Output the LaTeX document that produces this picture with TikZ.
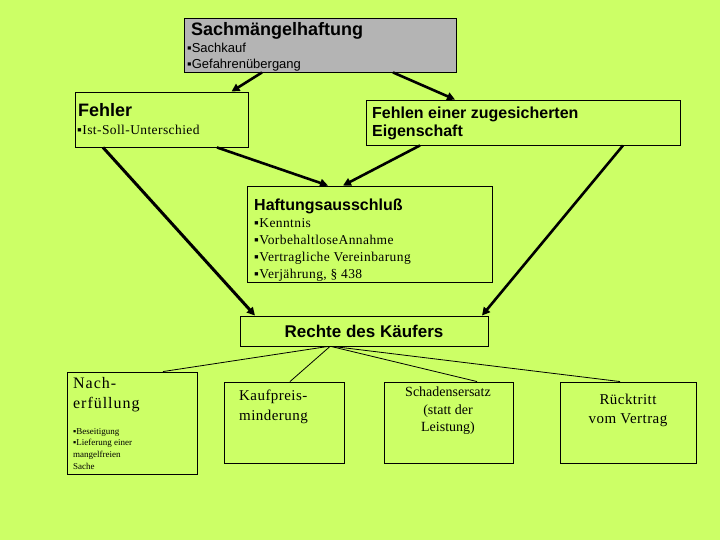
\documentclass[tikz,border=0pt]{standalone}
\usepackage{fontspec}
\setmainfont{Liberation Serif}
\newfontfamily\arial{Liberation Sans}
\newfontfamily\spaced[LetterSpace=6]{Liberation Serif}
\newfontfamily\lspaced[LetterSpace=3]{Liberation Serif}
\usetikzlibrary{arrows.meta}
\definecolor{bg}{HTML}{CCFF66}
\definecolor{boxgray}{HTML}{B4B4B4}
\begin{document}
\begin{tikzpicture}[x=1pt,y=-1pt,
  box/.style={draw=black,line width=0.9pt,rectangle,inner sep=0pt},
  thick arrow/.style={line width=2.6pt,-{Triangle[length=8pt,width=8pt]}},
  thin line/.style={line width=0.8pt},
  txt/.style={inner sep=0pt,anchor=base west},
  head/.style={txt,font=\arial\bfseries\fontsize{18}{20}\selectfont},
]
\fill[bg] (0,0) rectangle (720,540);
\useasboundingbox (0,0) rectangle (720,540);

% boxes
\node[box,fill=boxgray,minimum width=272pt,minimum height=54pt] (sach) at (320,45) {};
\node[box,minimum width=173pt,minimum height=55pt] (fehler) at (161.5,119.5) {};
\node[box,minimum width=314pt,minimum height=45pt] (fehlen) at (523,122.5) {};
\node[box,minimum width=245pt,minimum height=96pt] (haft) at (369.5,234) {};
\node[box,minimum width=248pt,minimum height=30pt] (rechte) at (364,331) {};
\node[box,minimum width=130pt,minimum height=102pt] (nach) at (132,423) {};
\node[box,minimum width=120pt,minimum height=81pt] (kauf) at (284,422.5) {};
\node[box,minimum width=129pt,minimum height=81pt] (scha) at (448.5,422.5) {};
\node[box,minimum width=136pt,minimum height=81pt] (ruck) at (628,422.5) {};

% texts
\node[head] (t1) at (191,36) {Sachmängelhaftung};
\node[txt,font=\arial\fontsize{13}{15}\selectfont] (t2) at (187,53) {▪Sachkauf};
\node[txt,font=\arial\fontsize{13}{15}\selectfont] (t3) at (187,69) {▪Gefahrenübergang};

\node[head] (t4) at (78,117) {Fehler};
\node[txt,font=\lspaced\fontsize{13.5}{15}\selectfont] (t5) at (77,135) {▪Ist-Soll-Unterschied};

\node[head,font=\arial\bfseries\fontsize{16}{18}\selectfont] (t6) at (372,119) {Fehlen einer zugesicherten};
\node[head,font=\arial\bfseries\fontsize{16}{18}\selectfont] (t7) at (372,137) {Eigenschaft};

\node[head,font=\arial\bfseries\fontsize{16}{18}\selectfont] (t8) at (254,211) {Haftungsausschluß};
\node[txt,font=\lspaced\fontsize{13.5}{15}\selectfont] (t9) at (254,227) {▪Kenntnis};
\node[txt,font=\lspaced\fontsize{13.5}{15}\selectfont] (t10) at (254,244) {▪VorbehaltloseAnnahme};
\node[txt,font=\lspaced\fontsize{13.5}{15}\selectfont] (t11) at (254,261) {▪Vertragliche Vereinbarung};
\node[txt,font=\lspaced\fontsize{13.5}{15}\selectfont] (t12) at (254,278) {▪Verjährung, § 438};

\node[inner sep=0pt,anchor=base,font=\arial\bfseries\fontsize{17}{19}\selectfont] (t13) at (364,337) {Rechte des Käufers};

\node[txt,font=\spaced\fontsize{16}{18}\selectfont] (t14) at (73,388) {Nach-};
\node[txt,font=\spaced\fontsize{16}{18}\selectfont] (t15) at (73,408) {erfüllung};
\node[txt,font=\fontsize{9}{10}\selectfont] (t16) at (73,434) {▪Beseitigung};
\node[txt,font=\fontsize{9}{10}\selectfont] (t17) at (73,445) {▪Lieferung einer};
\node[txt,font=\fontsize{9}{10}\selectfont] (t18) at (73,457) {mangelfreien};
\node[txt,font=\fontsize{9}{10}\selectfont] (t19) at (73,469) {Sache};

\node[txt,font=\lspaced\fontsize{15}{17}\selectfont] (t20) at (239,400) {Kaufpreis-};
\node[txt,font=\lspaced\fontsize{15}{17}\selectfont] (t21) at (239,420) {minderung};

\node[inner sep=0pt,anchor=base,font=\fontsize{14}{16}\selectfont] (t22) at (448,396) {Schadensersatz};
\node[inner sep=0pt,anchor=base,font=\fontsize{14}{16}\selectfont] (t23) at (448,414) {(statt der};
\node[inner sep=0pt,anchor=base,font=\fontsize{14}{16}\selectfont] (t24) at (448,431) {Leistung)};

\node[inner sep=0pt,anchor=base,font=\lspaced\fontsize{15}{17}\selectfont] (t25) at (628,404) {Rücktritt};
\node[inner sep=0pt,anchor=base,font=\lspaced\fontsize{15}{17}\selectfont] (t26) at (628,423) {vom Vertrag};

% thick arrows
\draw[thick arrow] ([xshift=-58pt]sach.south) -- ([xshift=70pt]fehler.north);
\draw[thick arrow] ([xshift=73pt]sach.south) -- ([xshift=-68pt]fehlen.north);
\draw[thick arrow,line width=3pt] ([xshift=-58.5pt]fehler.south) -- ([xshift=-109pt]rechte.north);
\draw[thick arrow] ([xshift=55.5pt]fehler.south) -- ([xshift=-41.5pt]haft.north);
\draw[thick arrow] ([xshift=-103pt]fehlen.south) -- ([xshift=-26.5pt]haft.north);
\draw[thick arrow] ([xshift=100pt]fehlen.south) -- ([xshift=118pt]rechte.north);

% thin lines
\draw[thin line] ([xshift=-36pt]rechte.south) -- ([xshift=31pt]nach.north);
\draw[thin line] ([xshift=-34pt]rechte.south) -- ([xshift=6pt]kauf.north);
\draw[thin line] ([xshift=-33pt]rechte.south) -- ([xshift=28.5pt]scha.north);
\draw[thin line] ([xshift=-31pt]rechte.south) -- ([xshift=-8pt]ruck.north);
\end{tikzpicture}
\end{document}
